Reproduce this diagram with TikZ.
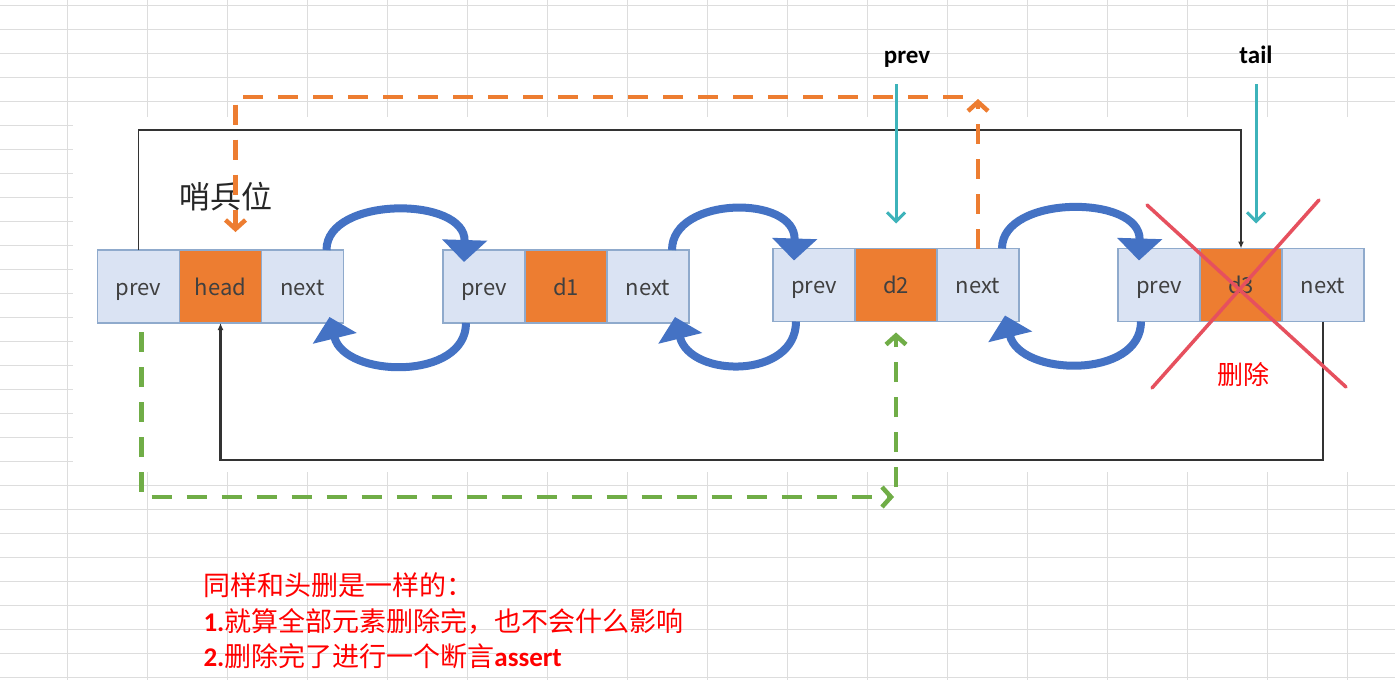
\documentclass[tikz,border=0pt]{standalone}
\usepackage{fontspec}
\setmainfont{Noto Sans CJK SC}
\newfontfamily\calib{Carlito}
\usetikzlibrary{arrows.meta,calc,positioning}
\definecolor{cellblue}{HTML}{DAE3F3}
\definecolor{cellline}{HTML}{8FAACC}
\definecolor{dataorange}{HTML}{ED7D31}
\definecolor{loopblue}{HTML}{4472C4}
\definecolor{dashgreen}{HTML}{70AD47}
\definecolor{ptrteal}{HTML}{3DB3BA}
\definecolor{crossred}{HTML}{E6505E}
\definecolor{gridgray}{HTML}{DDDDDD}
\definecolor{celltext}{HTML}{404040}

\begin{document}
\begin{tikzpicture}[x=1pt,y=-1pt,>=Stealth,
  cell/.style={draw=cellline,fill=cellblue,line width=1.2pt,minimum width=82pt,minimum height=73pt,
    inner sep=0pt,outer sep=0pt,text height=20pt,text depth=3pt,text=celltext,font=\fontsize{22}{26}\selectfont},
  datacell/.style={cell,fill=dataorange},
  link/.style={draw=black!80,line width=1.8pt,-{Latex[length=7pt,width=6pt]}},
  loopline/.style={draw=loopblue,line width=8pt,-{Triangle[length=22pt,width=44pt]}},
  odash/.style={draw=dataorange,line width=4.5pt,dash pattern=on 20pt off 15pt,-{Straight Barb[length=9pt,width=20pt]}},
  gdash/.style={odash,draw=dashgreen},
  ptr/.style={draw=ptrteal,line width=3pt,-{Straight Barb[length=9pt,width=18pt]}},
  strike/.style={draw=crossred,line width=3.5pt,line cap=round},
  ptrlabel/.style={anchor=base,font=\calib\bfseries\fontsize{25}{30}\selectfont},
  note/.style={anchor=west,text=red,font=\fontsize{27}{30}\selectfont}]

  % spreadsheet grid behind the pasted picture
  \useasboundingbox (0,0) rectangle (1395,680);
  \foreach \gx in {67,147,...,1347} \draw[gridgray,line width=1pt] (\gx,0) -- (\gx,680);
  \foreach \gy in {5,29,...,677} \draw[gridgray,line width=1pt] (0,\gy) -- (1395,\gy);
  \fill[white] (73,117) rectangle (1395,472);

  % list nodes
  \node[cell] (hp) at (138.5,286.5) {prev};
  \node[datacell,right=0pt of hp] (hd) {head};
  \node[cell,right=0pt of hd] (hn) {next};

  \node[cell] (d1p) at (484,286.5) {prev};
  \node[datacell,right=0pt of d1p] (d1d) {d1};
  \node[cell,right=0pt of d1d] (d1n) {next};

  \node[cell] (d2p) at (814,285) {prev};
  \node[datacell,right=0pt of d2p] (d2d) {d2};
  \node[cell,right=0pt of d2d] (d2n) {next};

  \node[cell] (d3p) at (1159,285) {prev};
  \node[datacell,right=0pt of d3p] (d3d) {d3};
  \node[cell,right=0pt of d3d] (d3n) {next};

  \node[font=\fontsize{31}{36}\selectfont,text=black!85] (sentinel) at (226,197) {哨兵位};
  \node[ptrlabel] (lprev) at (907,63) {prev};
  \node[ptrlabel] (ltail) at (1256,63) {tail};

  % circular links head <-> tail
  \coordinate (topline) at (0,130);
  \coordinate (botline) at (0,460);
  \draw[link] (hp.north) -- (hp.north |- topline) -| (d3d.north);
  \draw[link,line width=2.4pt] (d3n.south) -- (d3n.south |- botline) -| (hd.south);

  % prev/next loops
  \foreach \a/\b in {hn/d1p,d1n/d2p,d2n/d3p}{
    \draw[loopline] ($(\a.north)+(24,0)$) .. controls ($(\a.north)+(24,-54)$) and ($(\b.north)+(-18,-54)$) .. ($(\b.north)+(-20,12)$);
    \draw[loopline] ($(\b.south)+(-18,0)$) .. controls ($(\b.south)+(-18,58)$) and ($(\a.south)+(42,55)$) .. ($(\a.south)+(27,-6)$);
  }

  % new links after removing d3
  \coordinate (oup) at (977,99);
  \coordinate (ocorner) at (963,97);
  \draw[odash] (d2n.north) -- (d2n.north |- oup);
  \draw[odash] (ocorner) -| ($(hd.north)+(15,-18)$);

  \coordinate (gcorner) at (894,497);
  \coordinate (gturn) at (896,487);
  \draw[gdash,shorten <=9pt] ([xshift=3pt]hp.south) |- (gcorner);
  \draw[gdash,shorten >=11pt] (gturn) -- (d2d.south);

  % pointers
  \coordinate (ptrtop) at (0,84);
  \draw[ptr,shorten >=25pt] (d2d.north |- ptrtop) -- (d2d.north);
  \draw[ptr,shorten >=25pt] (ltail |- ptrtop) -- (ltail |- d3d.north);

  % d3 crossed out
  \draw[strike] (1147,205) -- (1346,387);
  \draw[strike] (1319,200) -- (1152,388);
  \node[text=red,font=\fontsize{26}{30}\selectfont] (del) at (1243,375) {删除};

  \node[note] (note1) at (200,585) {同样和头删是一样的：};
  \node[note] (note2) at (200,621) {{\calib\bfseries 1.}就算全部元素删除完，也不会什么影响};
  \node[note] (note3) at (200,656) {{\calib\bfseries 2.}删除完了进行一个断言{\calib\bfseries assert}};
\end{tikzpicture}
\end{document}
